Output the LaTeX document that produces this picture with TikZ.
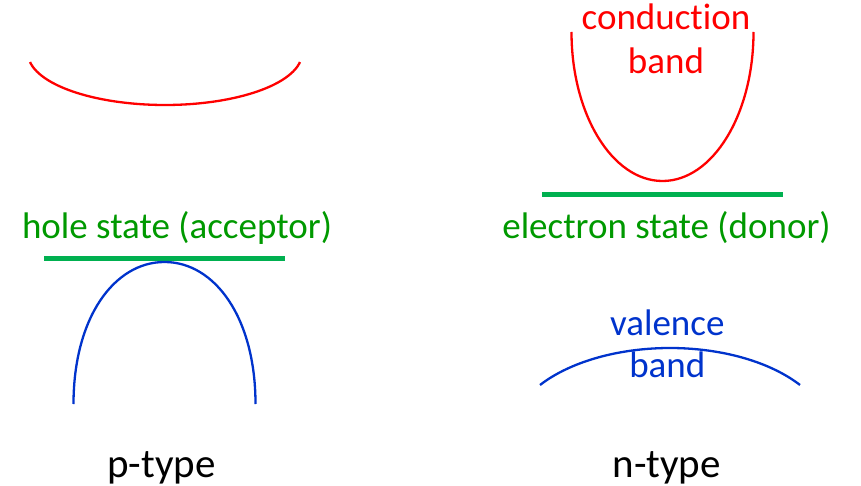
\documentclass[tikz,border=0pt]{standalone}
\usepackage{fontspec}
\setmainfont{Carlito}[Ligatures={NoCommon,NoContextual}]
\definecolor{cbred}{RGB}{255,0,0}
\definecolor{lvgreen}{RGB}{0,176,80}
\definecolor{txgreen}{RGB}{0,153,0}
\definecolor{vbblue}{RGB}{0,51,204}
\begin{document}
\begin{tikzpicture}[x=1pt,y=-1pt,
  band/.style={line width=2.3pt},
  level/.style={line width=5pt,lvgreen},
  lbl/.style={inner sep=0pt,anchor=base,font=\fontsize{37}{44}\selectfont},
  typ/.style={inner sep=0pt,anchor=base,font=\fontsize{41}{44}\selectfont}]
\useasboundingbox (0,0) rectangle (861,486);
% p-type
\draw[band,cbred] plot[smooth,domain=-80.2:80.2,samples=60] ({165+137*sin(\x)},{53.2+51.8*cos(\x)});
\coordinate (pl1) at (44,258);
\coordinate (pl2) at (285,258);
\draw[level] (pl1) -- (pl2);
\node[lbl,txgreen] (plab) at (177,239) {hole state (acceptor)};
\coordinate (pv1) at (73.5,404);
\coordinate (pvt) at (164.5,262);
\coordinate (pv2) at (255.5,404);
\draw[band,vbblue] (pv1) .. controls (73.5,318) and (114,262) .. (pvt)
  .. controls (215,262) and (255.5,318) .. (pv2);
\node[typ] (ptype) at (161.5,477) {p-type};
% n-type
\coordinate (nc1) at (571.5,32);
\draw[band,cbred] (nc1) arc[start angle=180,end angle=360,x radius=91,y radius=-149];
\node[lbl,cbred] (nclab1) at (666,30) {conduction};
\node[lbl,cbred] (nclab2) at (666,74) {band};
\coordinate (nl1) at (542,195);
\coordinate (nl2) at (783,195);
\draw[level] (nl1) -- (nl2);
\node[lbl,txgreen] (nlab) at (666.5,239) {electron state (donor)};
\draw[band,vbblue] plot[smooth,domain=-54.34:54.34,samples=60] ({670+160*sin(\x)},{436.7-88.7*cos(\x)});
\node[lbl,vbblue] (nvlab1) at (667.3,335) {valence};
\node[lbl,vbblue] (nvlab2) at (667.3,377.5) {band};
\node[typ] (ntype) at (666.7,477) {n-type};
\end{tikzpicture}
\end{document}
